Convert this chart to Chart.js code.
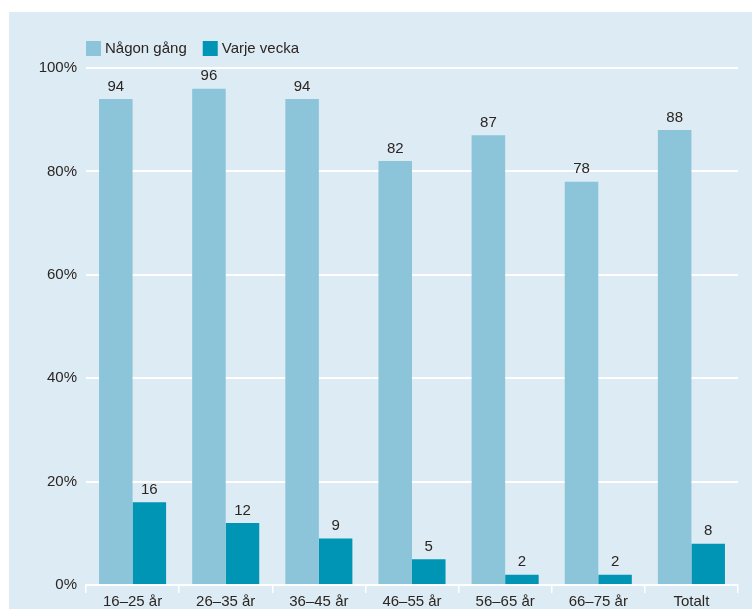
<!DOCTYPE html>
<html>
<head>
<meta charset="utf-8">
<script src="https://cdn.jsdelivr.net/npm/chart.js@4/dist/chart.umd.min.js"></script>
<style>
    html, body { margin: 0; padding: 0; background: #ffffff; }
    #panel {
        position: absolute;
        left: 9px;
        top: 12px;
        width: 743px;
        height: 597px;
        background: #dcebf4;
        overflow: hidden;
    }
</style>
</head>
<body>
<div id="panel">
    <canvas id="barChart" width="743" height="597"></canvas>
</div>
<script>
// Data
const kategorier = ['16–25 år', '26–35 år', '36–45 år', '46–55 år', '56–65 år', '66–75 år', 'Totalt'];
const nagonGang = [94, 96, 94, 82, 87, 78, 88];
const varjeVecka = [16, 12, 9, 5, 2, 2, 8];
const yTicks = [0, 20, 40, 60, 80, 100];

const FONT = '"Liberation Sans", Arial, sans-serif';
const TEXT = '#2b2622';

// Egen legend och värdeetiketter ovanför staplarna
const labelsPlugin = {
    id: 'labelsPlugin',
    afterDatasetsDraw(chart) {
        const ctx = chart.ctx;
        ctx.save();
        ctx.font = '15px ' + FONT;
        ctx.fillStyle = TEXT;
        ctx.textAlign = 'center';
        ctx.textBaseline = 'bottom';
        chart.data.datasets.forEach((ds, i) => {
            chart.getDatasetMeta(i).data.forEach((bar, j) => {
                ctx.fillText(String(ds.data[j]), bar.x, bar.y - 5);
            });
        });

        // legend
        let x = chart.chartArea.left;
        const y = 29;
        ctx.textAlign = 'left';
        ctx.textBaseline = 'middle';
        chart.data.datasets.forEach(ds => {
            ctx.fillStyle = ds.backgroundColor;
            ctx.fillRect(x, y, 15, 15);
            ctx.fillStyle = TEXT;
            ctx.fillText(ds.label, x + 19, y + 8);
            x += 19 + ctx.measureText(ds.label).width + 16;
        });
        ctx.restore();
    }
};

new Chart(document.getElementById('barChart'), {
    type: 'bar',
    data: {
        labels: kategorier,
        datasets: [{
            label: 'Någon gång',
            data: nagonGang,
            backgroundColor: '#8cc4d9',
            categoryPercentage: 0.72,
            barPercentage: 1.0
        }, {
            label: 'Varje vecka',
            data: varjeVecka,
            backgroundColor: '#0095b5',
            categoryPercentage: 0.72,
            barPercentage: 1.0
        }]
    },
    options: {
        responsive: false,
        animation: false,
        layout: {
            padding: { top: 56, right: 14, left: 0, bottom: 0 }
        },
        plugins: {
            legend: { display: false },
            tooltip: { enabled: false }
        },
        scales: {
            y: {
                min: 0,
                max: 100,
                afterFit(scale) { scale.width = 77; },
                afterBuildTicks(scale) {
                    scale.ticks = yTicks.map(v => ({ value: v }));
                },
                border: { display: false },
                grid: {
                    color: '#ffffff',
                    lineWidth: 2,
                    drawTicks: false
                },
                ticks: {
                    padding: 9,
                    color: TEXT,
                    font: { family: FONT, size: 15 },
                    callback: v => v + '%'
                }
            },
            x: {
                afterFit(scale) { scale.height = 24; },
                border: { display: true, color: '#ffffff', width: 2 },
                grid: {
                    color: '#ffffff',
                    lineWidth: 1.5,
                    drawOnChartArea: false,
                    drawTicks: true,
                    tickLength: 8
                },
                ticks: {
                    padding: 0,
                    color: TEXT,
                    maxRotation: 0,
                    font: { family: FONT, size: 15 }
                }
            }
        }
    },
    plugins: [labelsPlugin]
});
</script>
</body>
</html>
